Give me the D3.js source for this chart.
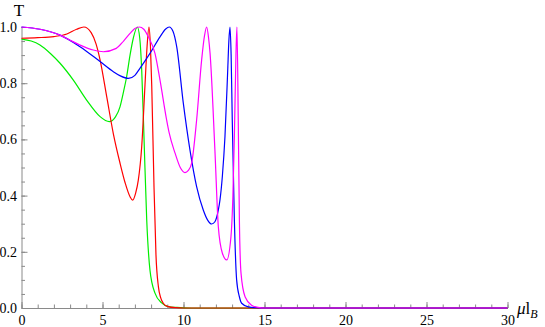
<!DOCTYPE html>
<html>
<head>
  <meta charset="utf-8">
  <title>T vs mu lB</title>
  <script src="https://d3js.org/d3.v7.min.js"></script>
  <style>
    body { margin: 0; background: #ffffff; }
    .axis path, .axis line { stroke: #8a8a8a; }
    .curve { fill: none; stroke-width: 1.2px; }
  </style>
</head>
<body>
  <div id="chart"></div>
  <script>
    // Transmission curves: [mu lB, T]
    const redPoints = [
      [0, 0.96], [1, 0.962], [2, 0.966], [2.8, 0.975], [3.4, 0.992], [3.85, 1.0], [4.3, 0.98],
      [4.6, 0.94], [4.85, 0.883], [5.26, 0.752], [5.67, 0.62], [6.08, 0.516], [6.4, 0.445],
      [6.7, 0.396], [6.86, 0.384], [7.05, 0.41], [7.21, 0.455], [7.42, 0.574], [7.62, 0.79],
      [7.75, 0.93], [7.87, 1.0], [7.96, 0.93], [8.04, 0.79], [8.18, 0.43], [8.3, 0.19],
      [8.45, 0.076], [8.6, 0.035], [8.75, 0.017], [9.0, 0.006], [9.5, 0.001], [10, 0], [30, 0]
    ];
    const greenPoints = [
      [0, 0.957], [0.6, 0.95], [1.14, 0.936], [1.8, 0.905], [2.38, 0.871], [3.2, 0.811],
      [4.02, 0.74], [4.85, 0.681], [5.42, 0.663], [5.8, 0.68], [6.08, 0.716], [6.3, 0.77],
      [6.49, 0.823], [6.7, 0.9], [6.9, 0.96], [7.15, 1.0], [7.3, 0.96], [7.42, 0.847],
      [7.56, 0.61], [7.73, 0.313], [7.93, 0.135], [8.24, 0.053], [8.65, 0.018], [9.06, 0.005],
      [9.6, 0.002], [10.5, 0], [30, 0]
    ];
    const bluePoints = [
      [0, 1.0], [1.14, 0.992], [2.38, 0.971], [3.61, 0.93], [4.85, 0.877], [5.67, 0.841],
      [6.1, 0.826], [6.6, 0.817], [7.0, 0.828], [7.31, 0.853], [7.93, 0.906], [8.55, 0.965],
      [8.9, 0.993], [9.12, 1.0], [9.35, 0.985], [9.58, 0.93], [9.99, 0.728], [10.4, 0.562],
      [10.81, 0.432], [11.22, 0.349], [11.5, 0.312], [11.74, 0.299], [11.94, 0.307],
      [12.15, 0.349], [12.25, 0.384], [12.4, 0.47], [12.56, 0.61], [12.73, 0.847], [12.8, 0.95],
      [12.87, 1.0], [12.94, 0.9], [13.01, 0.669], [13.14, 0.313], [13.28, 0.1], [13.45, 0.04],
      [13.59, 0.017], [14.0, 0.004], [14.5, 0.001], [15, 0], [30, 0]
    ];
    const magentaPoints = [
      [0, 1.0], [1.14, 0.992], [2.38, 0.971], [3.0, 0.953], [3.61, 0.936], [4.43, 0.918],
      [5.05, 0.912], [5.85, 0.924], [6.3, 0.95], [6.7, 0.977], [7.0, 0.995], [7.27, 1.0],
      [7.55, 0.992], [7.83, 0.965], [8.24, 0.906], [8.55, 0.811], [8.96, 0.669], [9.12, 0.622],
      [9.48, 0.551], [9.8, 0.5], [10.09, 0.482], [10.3, 0.49], [10.5, 0.515], [10.81, 0.669],
      [11.12, 0.883], [11.3, 0.97], [11.43, 1.0], [11.55, 0.96], [11.64, 0.906], [11.94, 0.56],
      [12.15, 0.289], [12.4, 0.195], [12.67, 0.171], [12.93, 0.254], [13.05, 0.4], [13.14, 0.61],
      [13.24, 0.906], [13.3, 1.0], [13.38, 0.67], [13.45, 0.313], [13.55, 0.124], [13.8, 0.04],
      [14.2, 0.01], [14.6, 0.002], [15, 0], [30, 0]
    ];

    const xMajorTicks = [0, 5, 10, 15, 20, 25, 30];
    const xMinorTicks = d3.range(0, 31, 1);
    const yMajorTicks = [0, 0.2, 0.4, 0.6, 0.8, 1.0];
    const yMinorTicks = d3.range(0, 21, 1).map(i => i * 0.05);

    const series = [
      { name: "green", color: "#00ee00", points: greenPoints },
      { name: "red", color: "#ff0000", points: redPoints },
      { name: "blue", color: "#0000ff", points: bluePoints },
      { name: "magenta", color: "#ff00ff", points: magentaPoints }
    ];

    const serif = "'Liberation Serif', 'Times New Roman', serif";
    const width = 545, height = 327;

    const svg = d3.select("#chart")
      .append("svg")
      .attr("width", width)
      .attr("height", height);

    // Scales
    const x = d3.scaleLinear().domain([0, 30]).range([21.5, 507.5]);
    const y = d3.scaleLinear().domain([0, 1]).range([308, 27]);

    // Minor ticks first (no labels)
    svg.append("g")
      .attr("class", "axis")
      .attr("transform", `translate(0, ${y(0)})`)
      .call(d3.axisBottom(x).tickValues(xMinorTicks).tickSizeInner(-3.5).tickSizeOuter(0).tickFormat(""))
      .select(".domain").remove();

    svg.append("g")
      .attr("class", "axis")
      .attr("transform", `translate(${x(0)}, 0)`)
      .call(d3.axisLeft(y).tickValues(yMinorTicks).tickSizeInner(-3.5).tickSizeOuter(0).tickFormat(""))
      .select(".domain").remove();

    // Major ticks and labels
    svg.append("g")
      .attr("class", "axis")
      .attr("transform", `translate(0, ${y(0)})`)
      .call(d3.axisBottom(x).tickValues(xMajorTicks).tickSizeInner(-6).tickSizeOuter(0).tickPadding(7).tickFormat(d3.format("d")))
      .attr("font-family", serif)
      .attr("font-size", 14)
      .selectAll("text").attr("fill", "#000");

    svg.append("g")
      .attr("class", "axis")
      .attr("transform", `translate(${x(0)}, 0)`)
      .call(d3.axisLeft(y).tickValues(yMajorTicks).tickSizeInner(-6).tickSizeOuter(0).tickPadding(4.5).tickFormat(d3.format(".1f")))
      .attr("font-family", serif)
      .attr("font-size", 14)
      .selectAll("text").attr("fill", "#000");

    // Curves
    const line = d3.line()
      .x(d => x(d[0]))
      .y(d => y(d[1]))
      .curve(d3.curveMonotoneX);

    series.forEach(s => {
      svg.append("path")
        .datum(s.points)
        .attr("class", "curve")
        .attr("d", line)
        .style("stroke", s.color);
    });

    // Axis titles
    svg.append("text")
      .attr("x", 19)
      .attr("y", 16)
      .attr("text-anchor", "middle")
      .attr("font-family", serif)
      .attr("font-size", 17)
      .text("T");

    const xt = svg.append("text")
      .attr("x", 517)
      .attr("y", 314)
      .attr("font-family", serif)
      .attr("font-size", 17);
    xt.append("tspan").attr("font-style", "italic").text("μ");
    xt.append("tspan").text("l");
    xt.append("tspan").attr("dy", 4).attr("font-style", "italic").attr("font-size", 12).text("B");
  </script>
</body>
</html>
